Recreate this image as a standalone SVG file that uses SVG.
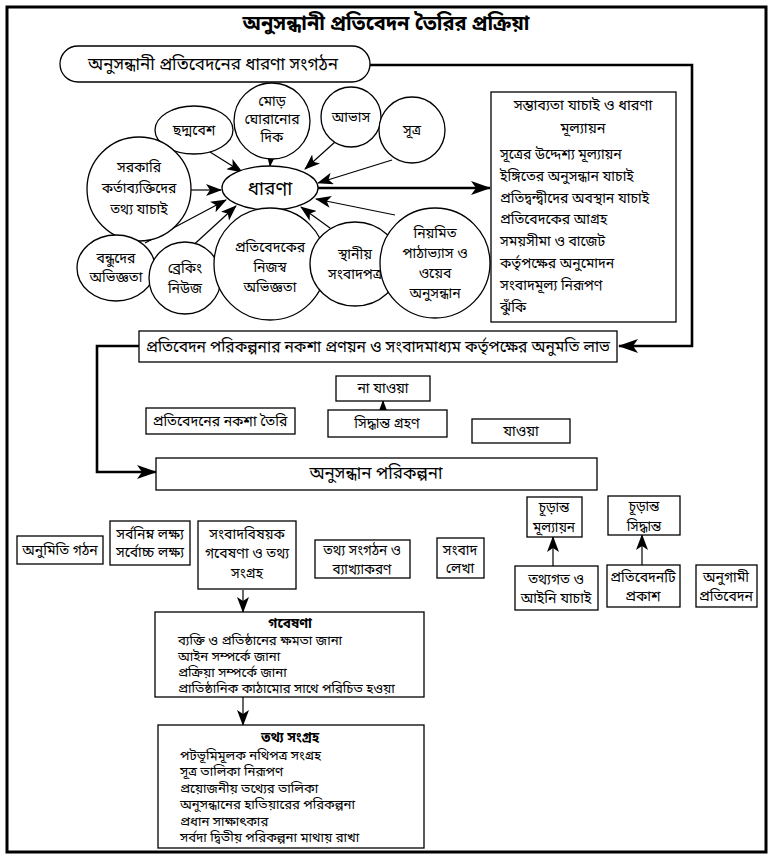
<svg xmlns="http://www.w3.org/2000/svg" width="773" height="859" viewBox="0 0 773 859">
<style>
text{font-family:"Noto Sans Bengali","Noto Serif Bengali","Lohit Bengali","Noto Sans","DejaVu Sans",sans-serif;fill:#000}
.t{font-size:14px;text-anchor:middle}
.l{font-size:14px}
.s{font-size:13.2px}
.b{fill:#fff;stroke:#000;stroke-width:1.3}
.c{fill:#fff;stroke:#000;stroke-width:1.3}
.th{fill:none;stroke:#000;stroke-width:2.6}
.tn{fill:none;stroke:#000;stroke-width:1.2}
</style>
<defs>
<marker id="ah" markerUnits="userSpaceOnUse" viewBox="0 0 16 12" refX="15" refY="6" markerWidth="16" markerHeight="12" orient="auto">
<path d="M0,0 L16,6 L0,12 L4,6 z" fill="#000"/>
</marker>
<marker id="ahb" markerUnits="userSpaceOnUse" viewBox="0 0 20 14" refX="19" refY="7" markerWidth="20" markerHeight="14" orient="auto">
<path d="M0,0 L20,7 L0,14 L5,7 z" fill="#000"/>
</marker>
</defs>
<rect x="0" y="0" width="773" height="859" fill="#fff"/>
<rect x="7" y="7" width="759" height="845" fill="none" stroke="#000" stroke-width="3"/>
<text x="386" y="30" style="font-size:20px;font-weight:bold;text-anchor:middle">অনুসন্ধানী প্রতিবেদন তৈরির প্রক্রিয়া</text>

<g id="connectors">
<polyline class="th" points="370,65 692,65 692,346 619,346" marker-end="url(#ahb)"/>
<line class="th" x1="318" y1="188" x2="490" y2="188" marker-end="url(#ahb)"/>
<polyline class="th" points="139,346 97,346 97,472 156,472" marker-end="url(#ahb)"/>
<line class="tn" x1="210" y1="152" x2="242" y2="172" marker-end="url(#ah)"/>
<line class="tn" x1="271" y1="157" x2="270" y2="166" marker-end="url(#ah)"/>
<line class="tn" x1="335" y1="142" x2="305" y2="169" marker-end="url(#ah)"/>
<line class="tn" x1="392" y1="160" x2="318" y2="183" marker-end="url(#ah)"/>
<line class="tn" x1="191" y1="190" x2="221" y2="190" marker-end="url(#ah)"/>
<line class="tn" x1="145" y1="243" x2="226" y2="200" marker-end="url(#ah)"/>
<line class="tn" x1="188" y1="250" x2="236" y2="206" marker-end="url(#ah)"/>
<line class="tn" x1="270" y1="215" x2="270" y2="210" marker-end="url(#ah)"/>
<line class="tn" x1="330" y1="228" x2="301" y2="207" marker-end="url(#ah)"/>
<line class="tn" x1="395" y1="215" x2="316" y2="199" marker-end="url(#ah)"/>
<line class="tn" x1="383" y1="420" x2="383" y2="401" marker-end="url(#ah)"/>
<line class="tn" x1="553" y1="567" x2="553" y2="537" marker-end="url(#ah)"/>
<line class="tn" x1="642" y1="566" x2="642" y2="535" marker-end="url(#ah)"/>
<line class="tn" x1="243" y1="590" x2="243" y2="612" marker-end="url(#ah)"/>
<line class="tn" x1="243" y1="697" x2="243" y2="725" marker-end="url(#ah)"/>
</g>

<g id="n-pill"><rect class="b" x="60" y="46" width="310" height="36" rx="18"/><text x="213" y="70" style="font-size:17px;text-anchor:middle">অনুসন্ধানী প্রতিবেদনের ধারণা সংগঠন</text></g>

<g id="n-feas"><rect class="b" x="491" y="92" width="185" height="230"/>
<text class="t" x="583" y="110" style="font-size:14.5px">সম্ভাব্যতা যাচাই ও ধারণা</text>
<text class="t" x="583" y="133" style="font-size:14.5px">মূল্যায়ন</text>
<text class="l" x="500" y="159">সূত্রের উদ্দেশ্য মূল্যায়ন</text>
<text class="l" x="500" y="181">ইঙ্গিতের অনুসন্ধান যাচাই</text>
<text class="l" x="500" y="203">প্রতিদ্বন্দ্বীদের অবস্থান যাচাই</text>
<text class="l" x="500" y="224">প্রতিবেদকের আগ্রহ</text>
<text class="l" x="500" y="246">সময়সীমা ও বাজেট</text>
<text class="l" x="500" y="268">কর্তৃপক্ষের অনুমোদন</text>
<text class="l" x="500" y="290">সংবাদমূল্য নিরূপণ</text>
<text class="l" x="500" y="312">ঝুঁকি</text>
</g>

<g id="n-idea"><ellipse class="c" cx="270" cy="188" rx="48" ry="22"/><text x="270" y="195" style="font-size:19px;text-anchor:middle">ধারণা</text></g>
<g id="n-disguise"><ellipse class="c" cx="194" cy="130" rx="39" ry="24"/><text class="t" x="194" y="135">ছদ্মবেশ</text></g>
<g id="n-turn"><circle class="c" cx="272" cy="121" r="38"/><text class="t" x="272" y="106">মোড়</text><text class="t" x="272" y="124">ঘোরানোর</text><text class="t" x="272" y="142">দিক</text></g>
<g id="n-hint"><circle class="c" cx="351" cy="117" r="30"/><text class="t" x="351" y="122">আভাস</text></g>
<g id="n-source"><circle class="c" cx="412" cy="130" r="33"/><text class="t" x="412" y="135">সূত্র</text></g>
<g id="n-official"><circle class="c" cx="139" cy="189" r="52"/><text class="t" x="139" y="172">সরকারি</text><text class="t" x="139" y="193">কর্তাব্যক্তিদের</text><text class="t" x="139" y="214">তথ্য যাচাই</text></g>
<g id="n-friends"><ellipse class="c" cx="116" cy="268" rx="39" ry="33"/><text class="t" x="116" y="263">বন্ধুদের</text><text class="t" x="116" y="282">অভিজ্ঞতা</text></g>
<g id="n-breaking"><circle class="c" cx="185" cy="278" r="36"/><text class="t" x="185" y="273">ব্রেকিং</text><text class="t" x="185" y="293">নিউজ</text></g>
<g id="n-own"><circle class="c" cx="270" cy="264" r="56"/><text class="t" x="270" y="252">প্রতিবেদকের</text><text class="t" x="270" y="272">নিজস্ব</text><text class="t" x="270" y="292">অভিজ্ঞতা</text></g>
<g id="n-local"><ellipse class="c" cx="355" cy="264" rx="45" ry="42"/><text class="t" x="355" y="259">স্থানীয়</text><text class="t" x="355" y="279">সংবাদপত্র</text></g>
<g id="n-reading"><circle class="c" cx="435" cy="263" r="55"/><text class="t" x="435" y="238">নিয়মিত</text><text class="t" x="435" y="258">পাঠাভ্যাস ও</text><text class="t" x="435" y="278">ওয়েব</text><text class="t" x="435" y="298">অনুসন্ধান</text></g>

<g id="n-plan"><rect class="b" x="139" y="331" width="478" height="31"/><text x="146" y="352" textLength="464" lengthAdjust="spacingAndGlyphs" style="font-size:16.5px">প্রতিবেদন পরিকল্পনার নকশা প্রণয়ন ও সংবাদমাধ্যম কর্তৃপক্ষের অনুমতি লাভ</text></g>
<g id="n-nogo"><rect class="b" x="336" y="376" width="94" height="25"/><text class="t" x="383" y="393">না যাওয়া</text></g>
<g id="n-decide"><rect class="b" x="328" y="410" width="119" height="27"/><text class="t" x="387" y="428">সিদ্ধান্ত গ্রহণ</text></g>
<g id="n-draft"><rect class="b" x="146" y="408" width="149" height="26"/><text class="t" x="220" y="426">প্রতিবেদনের নকশা তৈরি</text></g>
<g id="n-go"><rect class="b" x="472" y="419" width="98" height="24"/><text class="t" x="521" y="436">যাওয়া</text></g>
<g id="n-invplan"><rect class="b" x="156" y="458" width="441" height="32"/><text x="376" y="479" style="font-size:17px;text-anchor:middle">অনুসন্ধান পরিকল্পনা</text></g>

<g id="n-hyp"><rect class="b" x="17" y="536" width="86" height="28"/><text class="t" x="60" y="555">অনুমিতি গঠন</text></g>
<g id="n-goal"><rect class="b" x="110" y="521" width="80" height="44"/><text class="t" x="150" y="539">সর্বনিম্ন লক্ষ্য</text><text class="t" x="150" y="557">সর্বোচ্চ লক্ষ্য</text></g>
<g id="n-research"><rect class="b" x="198" y="521" width="98" height="68"/><text class="t" x="247" y="539">সংবাদবিষয়ক</text><text class="t" x="247" y="558">গবেষণা ও তথ্য</text><text class="t" x="247" y="578">সংগ্রহ</text></g>
<g id="n-organize"><rect class="b" x="315" y="540" width="95" height="38"/><text class="t" x="362" y="555" style="font-size:13.5px">তথ্য সংগঠন ও</text><text class="t" x="362" y="574" style="font-size:13.5px">ব্যাখ্যাকরণ</text></g>
<g id="n-write"><rect class="b" x="437" y="538" width="47" height="40"/><text class="t" x="460" y="555">সংবাদ</text><text class="t" x="460" y="573">লেখা</text></g>
<g id="n-finaleval"><rect class="b" x="527" y="497" width="55" height="40"/><text class="t" x="554" y="512" style="font-size:13.5px">চূড়ান্ত</text><text class="t" x="554" y="532" style="font-size:13.5px">মূল্যায়ন</text></g>
<g id="n-legal"><rect class="b" x="515" y="566" width="83" height="44"/><text class="t" x="556" y="584">তথ্যগত ও</text><text class="t" x="556" y="603">আইনি যাচাই</text></g>
<g id="n-finaldec"><rect class="b" x="608" y="496" width="72" height="39"/><text class="t" x="644" y="511" style="font-size:13.5px">চূড়ান্ত</text><text class="t" x="644" y="531" style="font-size:13.5px">সিদ্ধান্ত</text></g>
<g id="n-publish"><rect class="b" x="607" y="565" width="73" height="42"/><text class="t" x="643" y="582">প্রতিবেদনটি</text><text class="t" x="643" y="601">প্রকাশ</text></g>
<g id="n-follow"><rect class="b" x="696" y="565" width="61" height="42"/><text class="t" x="726" y="582">অনুগামী</text><text class="t" x="726" y="601">প্রতিবেদন</text></g>

<g id="n-gobeshona"><rect class="b" x="155" y="612" width="269" height="85"/>
<text class="t" x="290" y="628" style="font-weight:bold;font-size:13.5px">গবেষণা</text>
<text class="s" x="178" y="645">ব্যক্তি ও প্রতিষ্ঠানের ক্ষমতা জানা</text>
<text class="s" x="178" y="661">আইন সম্পর্কে জানা</text>
<text class="s" x="178" y="677">প্রক্রিয়া সম্পর্কে জানা</text>
<text class="s" x="178" y="693">প্রাতিষ্ঠানিক কাঠামোর সাথে পরিচিত হওয়া</text>
</g>
<g id="n-collect"><rect class="b" x="158" y="725" width="266" height="123"/>
<text class="t" x="290" y="742" style="font-weight:bold;font-size:13.5px">তথ্য সংগ্রহ</text>
<text class="s" x="180" y="760">পটভূমিমূলক নথিপত্র সংগ্রহ</text>
<text class="s" x="180" y="776">সূত্র তালিকা নিরূপণ</text>
<text class="s" x="180" y="793">প্রয়োজনীয় তথ্যের তালিকা</text>
<text class="s" x="180" y="809">অনুসন্ধানের হাতিয়ারের পরিকল্পনা</text>
<text class="s" x="180" y="826">প্রধান সাক্ষাৎকার</text>
<text class="s" x="180" y="842">সর্বদা দ্বিতীয় পরিকল্পনা মাথায় রাখা</text>
</g>
</svg>
